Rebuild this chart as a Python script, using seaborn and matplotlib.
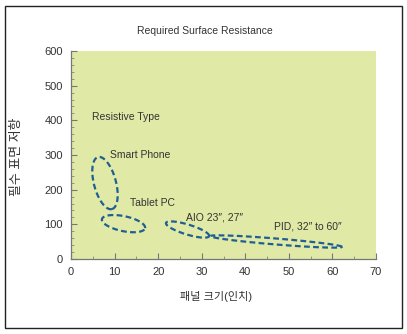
import numpy as np
import pandas as pd
import matplotlib
matplotlib.use("Agg")
import matplotlib.pyplot as plt
import seaborn as sns
from matplotlib.patches import Rectangle

# ---- data ----
title = "Required Surface Resistance"
x_label = "패널 크기(인치)"
y_label = "필수 표면 저항"
x_ticks = [0, 10, 20, 30, 40, 50, 60, 70]
y_ticks = [0, 100, 200, 300, 400, 500, 600]

group_names = ["Smart Phone", "Tablet PC", "AIO 23\u2033, 27\u2033", "PID, 32\u2033 to 60\u2033"]
# ellipse long-axis end points (panel size, resistance)
end_a_x = [6.2, 7.1, 21.8, 31.9]
end_a_y = [294, 115, 104, 66]
end_b_x = [9.4, 17.0, 31.7, 62.2]
end_b_y = [144, 89, 66, 35]
# label anchors (left, centre)
label_x = [9.0, 13.5, 26.4, 46.6]
label_y = [300, 161, 121, 95]
type_label = "Resistive Type"
type_x, type_y = 4.8, 410

# ellipse short-axis widths (pixels)
minor_px = [22, 15, 10, 6]

# ---- style ----
sns.set_theme(style="ticks")
plt.rcParams['font.family'] = ['Liberation Sans', 'Noto Sans CJK KR', 'DejaVu Sans']
text_col = "#333333"
line_col = "#1f5f93"
bg_col = "#e1e9a6"

FW, FH, DPI = 4.07, 3.34, 100
fig = plt.figure(figsize=(FW, FH), dpi=DPI)
fig.patch.set_facecolor("white")
W_px, H_px = FW * DPI, FH * DPI
ax_l, ax_r, ax_t, ax_b = 71, 376, 51, 259
ax = fig.add_axes([ax_l / W_px, 1 - ax_b / H_px, (ax_r - ax_l) / W_px, (ax_b - ax_t) / H_px])
ax.set_facecolor(bg_col)
ax.set_xlim(0, 70)
ax.set_ylim(0, 600)
aw, ah = ax_r - ax_l, ax_b - ax_t

t = np.linspace(0, 2 * np.pi, 200)
for i in range(len(group_names)):
    # work in pixel space so the ellipse is a true ellipse on screen
    p1 = np.array([end_a_x[i] / 70 * aw, end_a_y[i] / 600 * ah])
    p2 = np.array([end_b_x[i] / 70 * aw, end_b_y[i] / 600 * ah])
    c = (p1 + p2) / 2
    d = p2 - p1
    a = np.linalg.norm(d) / 2
    u = d / np.linalg.norm(d)
    v = np.array([-u[1], u[0]])
    b = minor_px[i] / 2
    px = c[0] + a * np.cos(t) * u[0] + b * np.sin(t) * v[0]
    py = c[1] + a * np.cos(t) * u[1] + b * np.sin(t) * v[1]
    df = pd.DataFrame({"x": px / aw * 70, "y": py / ah * 600})
    sns.lineplot(data=df, x="x", y="y", sort=False, estimator=None, ax=ax,
                 color=line_col, linewidth=1.6, linestyle=(0, (2.6, 1.5)))
    ax.text(label_x[i], label_y[i], group_names[i], ha="left", va="center",
            fontsize=7.5, color=text_col)

ax.text(type_x, type_y, type_label, ha="left", va="center", fontsize=7.5, color=text_col)

ax.set_xticks(x_ticks)
ax.set_yticks(y_ticks)
ax.set_xticks(np.arange(0, 71, 5), minor=True)
ax.set_yticks(np.arange(0, 601, 20), minor=True)
ax.tick_params(axis="both", which="major", direction="in", length=4, width=0.8,
               colors="#777777", labelcolor=text_col, labelsize=8, pad=6)
ax.tick_params(axis="both", which="minor", direction="in", length=2.5, width=0.6, colors="#888888")
ax.set_xlabel("")
ax.set_ylabel("")
for s in ["top", "right"]:
    ax.spines[s].set_visible(False)
for s in ["left", "bottom"]:
    ax.spines[s].set_color("#777777")
    ax.spines[s].set_linewidth(0.9)

fig.text(205 / W_px, 1 - 31 / H_px, title, ha="center", va="center", fontsize=7.5, color=text_col)
fig.text(216 / W_px, 1 - 296 / H_px, x_label, ha="center", va="center", fontsize=8, color=text_col)
fig.text(17 / W_px, 1 - 157 / H_px, y_label, ha="center", va="center", fontsize=9.3, rotation=90, color=text_col)

fig.patches.append(Rectangle((5 / W_px, 1 - 328 / H_px), 397 / W_px, 322 / H_px,
                             transform=fig.transFigure, fill=False, edgecolor="#222222", linewidth=1.0))

fig.savefig("out.png", dpi=DPI)
